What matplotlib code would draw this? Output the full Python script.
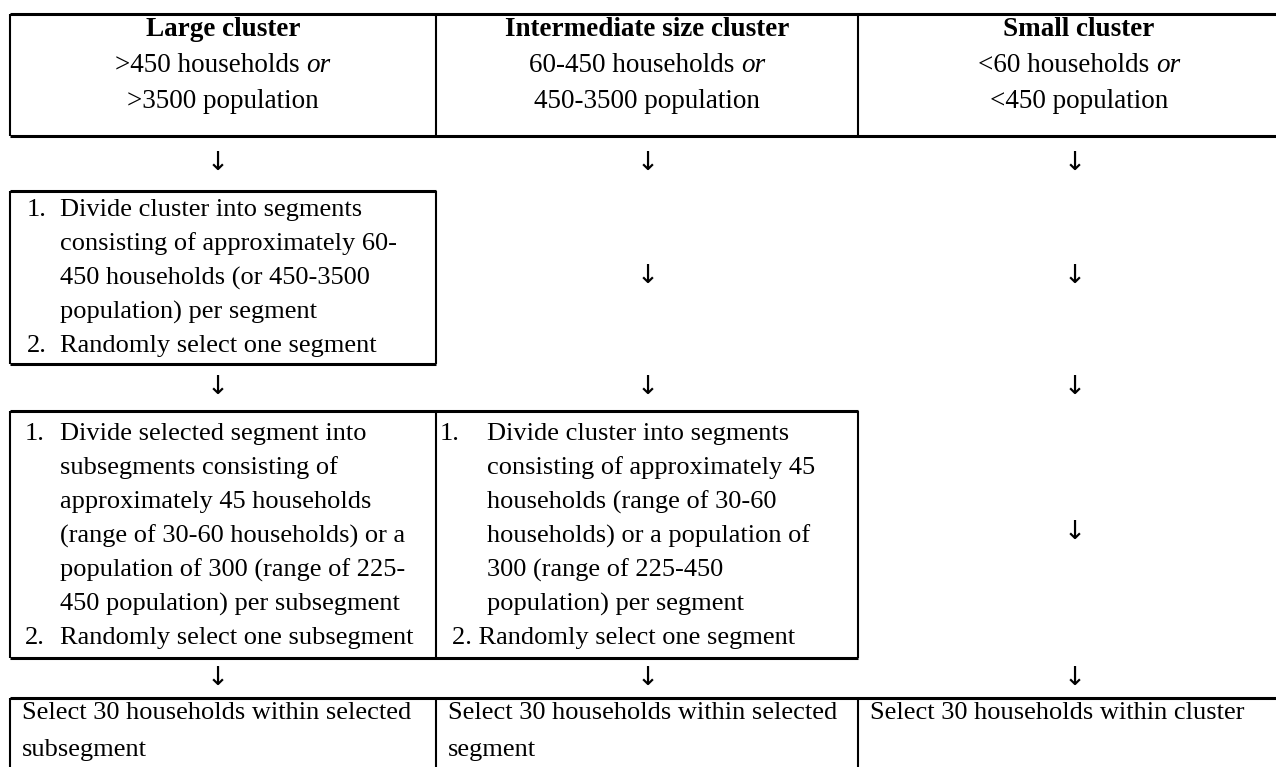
import matplotlib
matplotlib.use("Agg")
import matplotlib.pyplot as plt

plt.rcParams["font.family"] = ["Liberation Serif", "DejaVu Serif"]

W, H = 1276, 767
FS = 19
FS_HEAD = 19.5

# header cells
header_titles = ["Large cluster", "Intermediate size cluster", "Small cluster"]
header_line1 = [">450 households ", "60-450 households ", "<60 households "]
header_or = "or"
header_line2 = [">3500 population", "450-3500 population", "<450 population"]

# step 1 (large cluster only)
step1_large = [
    ("1.", "Divide cluster into segments"),
    ("", "consisting of approximately 60-"),
    ("", "450 households (or 450-3500"),
    ("", "population) per segment"),
    ("2.", "Randomly select one segment"),
]

# step 2
step2_large = [
    ("1.", "Divide selected segment into"),
    ("", "subsegments consisting of"),
    ("", "approximately 45 households"),
    ("", "(range of 30-60 households) or a"),
    ("", "population of 300 (range of 225-"),
    ("", "450 population) per subsegment"),
    ("2.", "Randomly select one subsegment"),
]
step2_inter = [
    ("1.", "Divide cluster into segments"),
    ("", "consisting of approximately 45"),
    ("", "households (range of 30-60"),
    ("", "households) or a population of"),
    ("", "300 (range of 225-450"),
    ("", "population) per segment"),
    ("2.", "Randomly select one segment"),
]

# final step
final_texts = [
    ["Select 30 households within selected", "subsegment"],
    ["Select 30 households within selected", "segment"],
    ["Select 30 households within cluster"],
]

# layout (pixels, y downwards)
col_x = [10, 436, 858, 1300]
col_c = [(col_x[i] + col_x[i + 1]) / 2 for i in range(3)]
arrow_x = [218, 648, 1075]
LS = 34

fig = plt.figure(figsize=(W / 100, H / 100), dpi=100)
ax = fig.add_axes([0, 0, 1, 1])
ax.set_xlim(0, W)
ax.set_ylim(H, 0)
ax.axis("off")
renderer = fig.canvas.get_renderer()


def box(x0, x1, y0, y1, dividers=()):
    for y in (y0, y1):
        ax.plot([x0, x1], [y, y], color="black", lw=2.2, solid_capstyle="butt")
    for x in (x0, x1) + tuple(dividers):
        ax.plot([x, x], [y0, y1], color="black", lw=1.5, solid_capstyle="butt")


def arrow(x, y):
    ax.text(x, y, "\u2193", ha="center", va="center", fontsize=19,
            family="DejaVu Sans")


def write(x, y, s, **kw):
    ax.text(x, y, s, ha="left", va="center", fontsize=FS, **kw)


def centered_with_italic(xc, y, plain, ital):
    # plain part + italic word, centred together
    t1 = ax.text(0, y, plain, ha="left", va="center", fontsize=FS_HEAD)
    t2 = ax.text(0, y, ital, ha="left", va="center", fontsize=FS_HEAD,
                 style="italic")
    w1 = t1.get_window_extent(renderer).width
    w2 = t2.get_window_extent(renderer).width
    x0 = xc - (w1 + w2) / 2
    t1.set_x(x0)
    t2.set_x(x0 + w1)


# header box
box(col_x[0], col_x[3], 14, 136, dividers=(col_x[1], col_x[2]))
for i in range(3):
    ax.text(col_c[i], 30, header_titles[i], ha="center", va="center",
            fontsize=FS_HEAD, fontweight="bold")
    centered_with_italic(col_c[i], 66, header_line1[i], header_or)
    ax.text(col_c[i], 101, header_line2[i], ha="center", va="center",
            fontsize=FS_HEAD)

for x in arrow_x:
    arrow(x, 163)

# step 1 box (large cluster)
box(col_x[0], col_x[1], 191, 364)
for k, (num, txt) in enumerate(step1_large):
    y = 210 + k * LS
    if num:
        write(27, y, num)
    write(60, y, txt)
arrow(arrow_x[1], 276)
arrow(arrow_x[2], 276)

for x in arrow_x:
    arrow(x, 387)

# step 2 box
box(col_x[0], col_x[2], 411, 658, dividers=(col_x[1],))
for k, (num, txt) in enumerate(step2_large):
    y = 434 + k * LS
    if num:
        write(25, y, num)
    write(60, y, txt)
for k, (num, txt) in enumerate(step2_inter):
    y = 434 + k * LS
    if num == "1.":
        write(440, y, num)
        write(487, y, txt)
    elif num == "2.":
        write(452, y, num + " " + txt)
    else:
        write(487, y, txt)
arrow(arrow_x[2], 532)

for x in arrow_x:
    arrow(x, 678)

# final box
box(col_x[0], col_x[3], 698, 790, dividers=(col_x[1], col_x[2]))
for i, lines in enumerate(final_texts):
    for k, txt in enumerate(lines):
        write(col_x[i] + 12, 713 + k * 37, txt)

fig.savefig("out.png", dpi=100)
